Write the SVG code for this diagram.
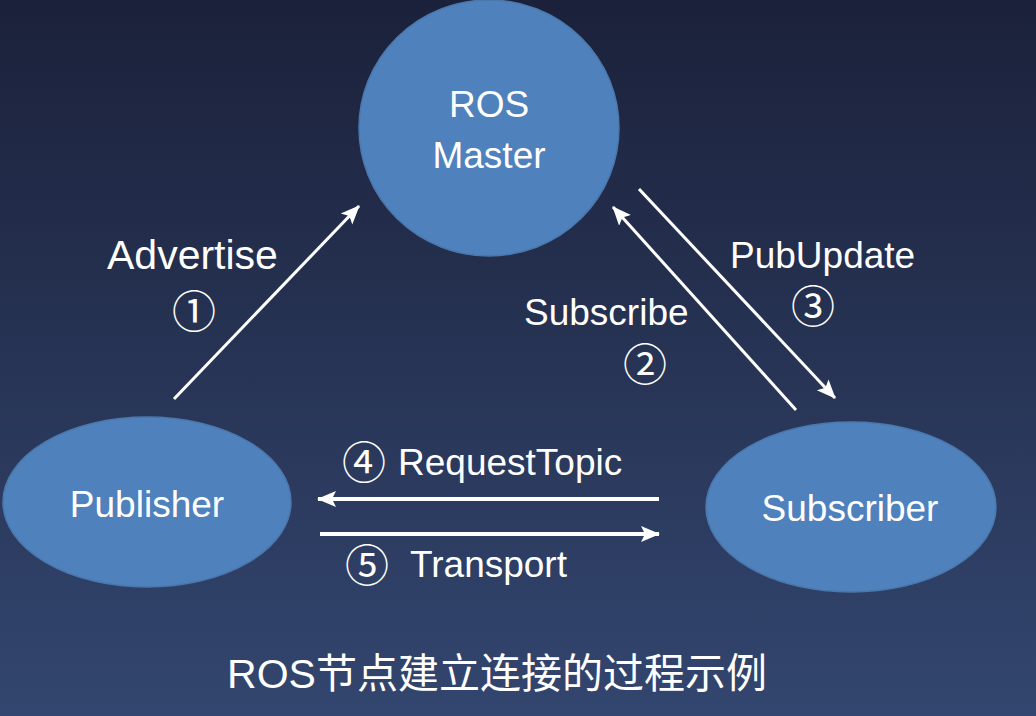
<svg xmlns="http://www.w3.org/2000/svg" width="1036" height="716" viewBox="0 0 1036 716">
<defs>
<linearGradient id="bg" x1="0" y1="0" x2="0" y2="1">
<stop offset="0" stop-color="#1b213a"/>
<stop offset="1" stop-color="#33466f"/>
</linearGradient>
<marker id="ah" markerUnits="userSpaceOnUse" markerWidth="20" markerHeight="20" viewBox="0 0 20 20" refX="18" refY="10" orient="auto">
<path d="M0,2 L19,10 L0,18 L4,10 z" fill="#ffffff"/>
</marker>
</defs>
<style>
.node{fill:#4f81bd;stroke:#4a78ad;stroke-width:1.5}
.nlabel{font-family:"Liberation Sans Narrow","Liberation Sans",sans-serif;font-size:37px;fill:#ffffff;text-anchor:middle}
.lbl{font-family:"Liberation Sans",Arial,sans-serif;font-size:37px;fill:#ffffff}
.num{font-family:"Noto Sans CJK SC","DejaVu Sans",sans-serif;font-size:44px;fill:#ffffff;text-anchor:middle}
.conn{stroke:#ffffff;fill:none;marker-end:url(#ah)}
.title{font-family:"Liberation Sans","Noto Sans CJK SC",sans-serif;font-size:41px;fill:#ffffff;text-anchor:middle}
</style>
<rect x="0" y="0" width="1036" height="716" fill="url(#bg)"/>
<g id="connectors">
<line class="conn" x1="174" y1="399" x2="359" y2="206" stroke-width="3"/>
<line class="conn" x1="796" y1="410" x2="613" y2="207" stroke-width="3"/>
<line class="conn" x1="639" y1="189" x2="835" y2="398" stroke-width="3"/>
<line class="conn" x1="659" y1="499" x2="318" y2="499" stroke-width="4"/>
<line class="conn" x1="320" y1="534" x2="659" y2="534" stroke-width="4"/>
</g>
<g id="master">
<ellipse class="node" cx="489" cy="128" rx="130" ry="128"/>
<text class="nlabel" x="489" y="117">ROS</text>
<text class="nlabel" x="489" y="168">Master</text>
</g>
<g id="publisher">
<ellipse class="node" cx="147" cy="502" rx="144" ry="85"/>
<text class="nlabel" x="147" y="517">Publisher</text>
</g>
<g id="subscriber">
<ellipse class="node" cx="851" cy="507" rx="145" ry="85"/>
<text class="nlabel" x="850" y="521">Subscriber</text>
</g>
<g id="labels">
<text class="lbl" x="107" y="269" style="font-size:41px">Advertise</text>
<text class="num" x="194" y="328">①</text>
<text class="lbl" x="730" y="268">PubUpdate</text>
<text class="num" x="813" y="323">③</text>
<text class="lbl" x="524" y="325">Subscribe</text>
<text class="num" x="645" y="381">②</text>
<text class="num" x="364" y="479">④</text>
<text class="lbl" x="398" y="475">RequestTopic</text>
<text class="num" x="367" y="582">⑤</text>
<text class="lbl" x="410" y="577">Transport</text>
</g>
<text class="title" x="497" y="688">ROS节点建立连接的过程示例</text>
</svg>
